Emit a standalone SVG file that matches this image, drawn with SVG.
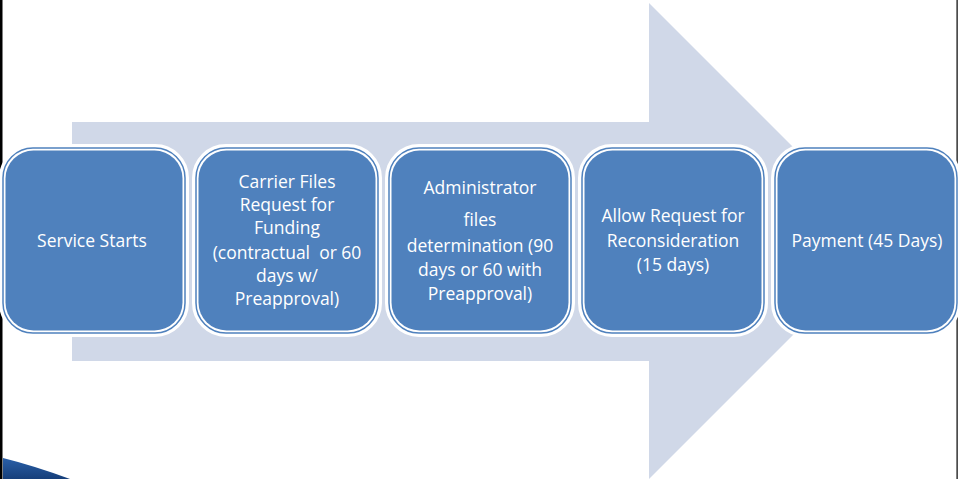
<svg xmlns="http://www.w3.org/2000/svg" width="959" height="479" viewBox="0 0 959 479">
<defs>
<style>
.halo{fill:#4F81BD;stroke:#FFFFFF;stroke-width:8}
.edge{fill:none;stroke:#4F81BD;stroke-width:1.5}
.fill{fill:#4F81BD}
.t{font-family:"Open Sans","Liberation Sans",sans-serif;font-size:17.5px;fill:#FFFFFF;text-anchor:middle;white-space:pre}
</style>
<linearGradient id="sw" x1="0" y1="0" x2="0" y2="1">
<stop offset="0" stop-color="#2A5FA8"/>
<stop offset="1" stop-color="#163F7A"/>
</linearGradient>
</defs>
<rect x="0" y="0" width="959" height="479" fill="#FFFFFF"/>
<polygon points="72,122 649,122 649,3 887,241 649,479 649,361 72,361" fill="#D0D8E8"/>
<path d="M3,458 Q35,466 70,479 L3,479 Z" fill="url(#sw)"/>
<rect x="0" y="0" width="2.5" height="479" fill="#000"/>
<rect x="956.5" y="0" width="1.2" height="479" fill="#000"/>
<g id="connectors"></g>
<g id="n1">
<rect class="halo" x="3" y="148" width="182" height="185" rx="30"/>
<rect class="edge" x="3" y="148" width="182" height="185" rx="30"/>
<rect class="fill" x="5.5" y="150.5" width="177" height="180" rx="28"/>
<text class="t" x="92" y="247">Service Starts</text>
</g>
<g id="n2">
<rect class="halo" x="196" y="148" width="182" height="185" rx="30"/>
<rect class="edge" x="196" y="148" width="182" height="185" rx="30"/>
<rect class="fill" x="198.5" y="150.5" width="177" height="180" rx="28"/>
<text class="t" x="287" y="188">Carrier Files</text>
<text class="t" x="287" y="211">Request for</text>
<text class="t" x="287" y="234">Funding</text>
<text class="t" x="287" y="259" xml:space="preserve">(contractual  or 60</text>
<text class="t" x="287" y="282">days w/</text>
<text class="t" x="287" y="305">Preapproval)</text>
</g>
<g id="n3">
<rect class="halo" x="389" y="148" width="182" height="185" rx="30"/>
<rect class="edge" x="389" y="148" width="182" height="185" rx="30"/>
<rect class="fill" x="391.5" y="150.5" width="177" height="180" rx="28"/>
<text class="t" x="480" y="194">Administrator</text>
<text class="t" x="480" y="226">files</text>
<text class="t" x="480" y="252">determination (90</text>
<text class="t" x="480" y="276">days or 60 with</text>
<text class="t" x="480" y="300">Preapproval)</text>
</g>
<g id="n4">
<rect class="halo" x="582" y="148" width="182" height="185" rx="30"/>
<rect class="edge" x="582" y="148" width="182" height="185" rx="30"/>
<rect class="fill" x="584.5" y="150.5" width="177" height="180" rx="28"/>
<text class="t" x="673" y="222">Allow Request for</text>
<text class="t" x="673" y="247">Reconsideration</text>
<text class="t" x="673" y="271">(15 days)</text>
</g>
<g id="n5">
<rect class="halo" x="775" y="148" width="182" height="185" rx="30"/>
<rect class="edge" x="775" y="148" width="182" height="185" rx="30"/>
<rect class="fill" x="777.5" y="150.5" width="177" height="180" rx="28"/>
<text class="t" x="867" y="247">Payment (45 Days)</text>
</g>
</svg>
